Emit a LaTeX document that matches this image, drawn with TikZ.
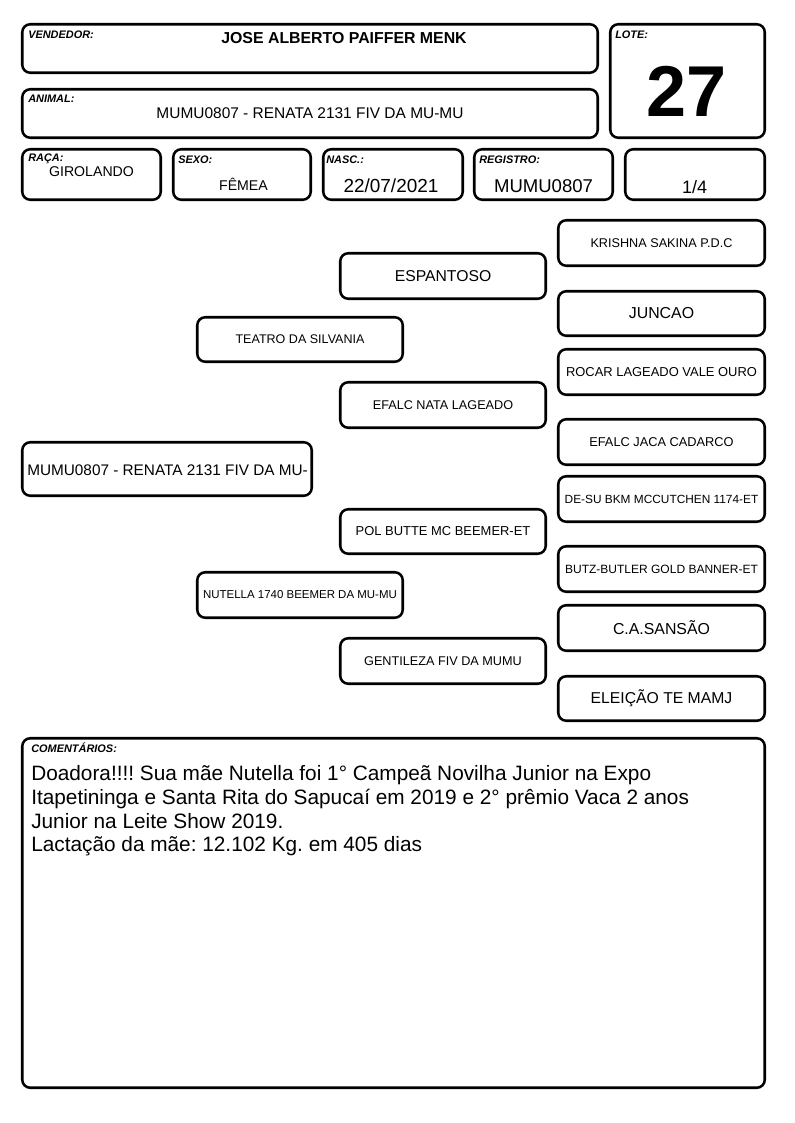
\documentclass[tikz,border=0pt]{standalone}
\usepackage{fontspec}
\setmainfont{Liberation Sans}
\frenchspacing
\newcommand\fs[1]{\fontsize{#1}{#1}\selectfont}
\newcommand\bx[5]{\node[box, minimum width={(#4-#2-2.5)*0.75pt}, minimum height={(#5-#3-2.5)*0.75pt}] (#1) at ({(#2+#4)/2},{(#3+#5)/2}) {};}
\newcommand\pb[7]{\node[box, minimum width={(#4-#2-2.5)*0.75pt}, minimum height={(#5-#3-2.5)*0.75pt}, font=\fs{#7}] (#1) at ({(#2+#4)/2},{(#3+#5)/2}) {#6};}
\begin{document}
\begin{tikzpicture}[x=0.75pt,y=-0.75pt,
  box/.style={draw, line width=1.9pt, rounded corners=6pt, inner sep=0pt, outer sep=0pt},
  lbl/.style={font=\bfseries\itshape\fs{8.2}, anchor=base west, inner sep=0pt},
  val/.style={inner sep=0pt, anchor=center}]
\useasboundingbox[fill=white] (0,0) rectangle (794,1123);
% header
\bx{vend}{21}{23}{599}{74}
\bx{anim}{21}{88}{599}{139}
\bx{lote}{609}{23}{766}{139}
\bx{raca}{21}{148}{162}{201}
\bx{sexo}{172}{148}{312}{201}
\bx{nasc}{322}{148}{464}{201}
\bx{reg}{473}{148}{614}{201}
\bx{frac}{624}{148}{766}{201}
\node[lbl] (lvend) at (28,38.5) {VENDEDOR:};
\node[val, font=\bfseries\fs{11.9}] (tvend) at (344,38) {JOSE ALBERTO PAIFFER MENK};
\node[lbl] (lanim) at (28,103) {ANIMAL:};
\node[val, font=\fs{11.6}] (tanim) at (310,113) {MUMU0807 - RENATA 2131 FIV DA MU-MU};
\node[lbl] (llote) at (615,38.5) {LOTE:};
\node[val, font=\bfseries\fs{54}] (tlote) at (687,91) {27};
\node[lbl] (lraca) at (28,162) {RAÇA:};
\node[val, font=\fs{10.6}] (traca) at (91.5,172) {GIROLANDO};
\node[lbl] (lsexo) at (178,164) {SEXO:};
\node[val, font=\fs{10.6}] (tsexo) at (243.5,184) {FÊMEA};
\node[lbl] (lnasc) at (326,164) {NASC.:};
\node[val, font=\fs{14.2}] (tnasc) at (391,186) {22/07/2021};
\node[lbl] (lreg) at (479,164) {REGISTRO:};
\node[val, font=\fs{13.9}] (treg) at (543.5,186) {MUMU0807};
\node[val, font=\fs{13.5}] (tfrac) at (694.5,187) {1/4};
% pedigree
\bx{p0}{21}{441}{313}{497}
\node[val, anchor=west, font=\fs{11.5}] (tp0) at (27,470) {MUMU0807 - RENATA 2131 FIV DA MU-};
\pb{p1}{196}{316}{404}{363}{TEATRO DA SILVANIA}{9.4}
\pb{p2}{196}{571}{404}{619}{NUTELLA 1740 BEEMER DA MU-MU}{8.6}
\pb{p11}{339}{252}{547}{300}{ESPANTOSO}{11.8}
\pb{p12}{339}{381}{547}{429}{EFALC NATA LAGEADO}{9.5}
\pb{p21}{339}{508}{547}{555}{POL BUTTE MC BEEMER-ET}{9.7}
\pb{p22}{339}{637}{547}{685}{GENTILEZA FIV DA MUMU}{9.5}
\pb{p111}{557}{219}{766}{267}{KRISHNA SAKINA P.D.C}{9.5}
\pb{p112}{557}{290}{766}{337}{JUNCAO}{11.9}
\pb{p121}{557}{348}{766}{396}{ROCAR LAGEADO VALE OURO}{9.7}
\pb{p122}{557}{418}{766}{466}{EFALC JACA CADARCO}{9.6}
\pb{p211}{557}{475}{766}{523}{DE-SU BKM MCCUTCHEN 1174-ET}{8.9}
\pb{p212}{557}{545}{766}{593}{BUTZ-BUTLER GOLD BANNER-ET}{9}
\pb{p221}{557}{604}{766}{652}{C.A.SANSÃO}{11.9}
\pb{p222}{557}{675}{766}{722}{ELEIÇÃO TE MAMJ}{11.8}
% comments
\bx{com}{21}{737}{766}{1089}
\node[lbl, font=\bfseries\itshape\fs{8.2}] (lcom) at (31,752.7) {COMENTÁRIOS:};
\node[inner sep=0pt, anchor=base west, font=\fs{15.6}] (c1) at (31,780.7) {Doadora!!!! Sua mãe Nutella foi 1° Campeã Novilha Junior na Expo};
\node[inner sep=0pt, anchor=base west, font=\fs{15.6}] (c2) at (31,804.4) {Itapetininga e Santa Rita do Sapucaí em 2019 e 2° prêmio Vaca 2 anos};
\node[inner sep=0pt, anchor=base west, font=\fs{15.6}] (c3) at (31,828.1) {Junior na Leite Show 2019.};
\node[inner sep=0pt, anchor=base west, font=\fs{15.6}] (c4) at (31,851.8) {Lactação da mãe: 12.102 Kg. em 405 dias};
\end{tikzpicture}
\end{document}
